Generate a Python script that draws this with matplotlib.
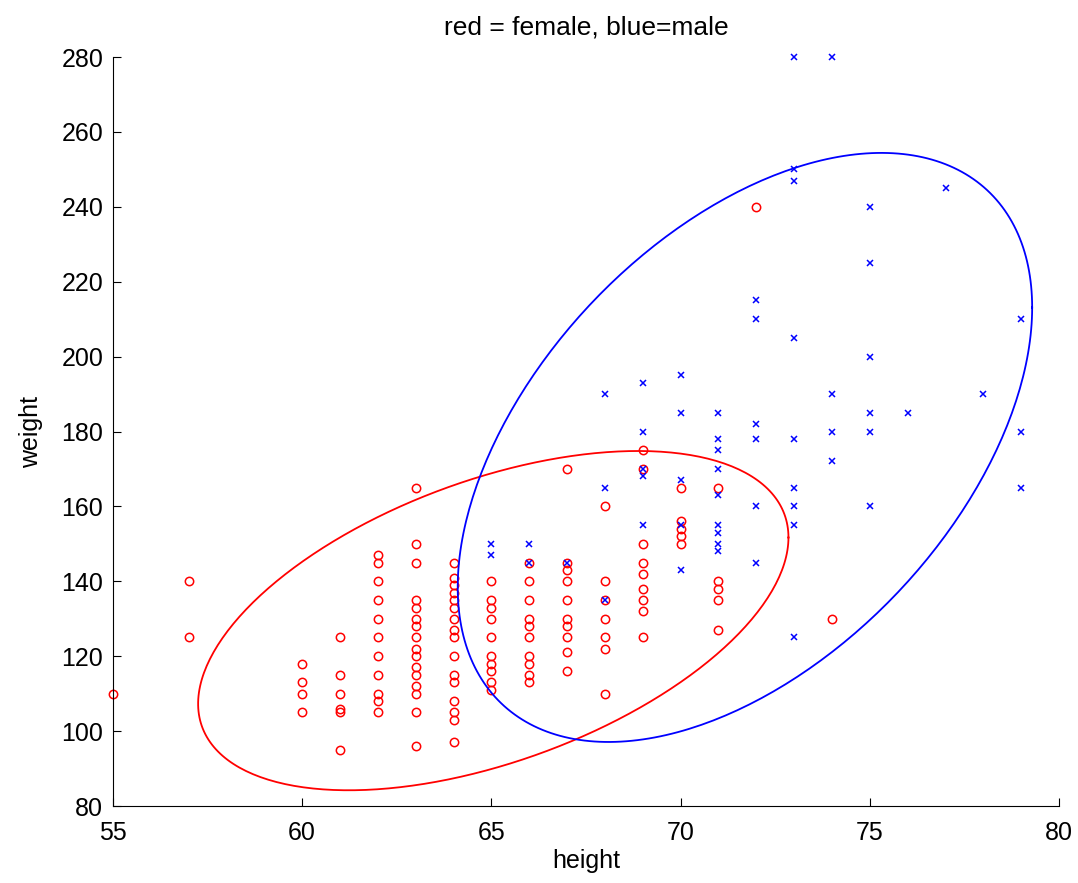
import numpy as np
import matplotlib
matplotlib.use("Agg")
import matplotlib.pyplot as plt

plt.rcParams['font.family'] = ['Liberation Sans', 'DejaVu Sans']

# female: height column -> weights
female = {
    55: [110],
    57: [140, 125],
    60: [118, 113, 110, 105],
    61: [125, 115, 110, 106, 105, 95],
    62: [147, 145, 140, 135, 130, 125, 120, 115, 110, 108, 105],
    63: [165, 150, 145, 135, 133, 130, 128, 125, 122, 120, 117, 115, 112, 110, 105, 96],
    64: [145, 141, 139, 137, 135, 133, 130, 127, 125, 120, 115, 113, 108, 105, 103, 97],
    65: [140, 135, 133, 130, 125, 120, 118, 116, 113, 111],
    66: [145, 140, 135, 130, 128, 125, 120, 118, 115, 113],
    67: [170, 145, 143, 140, 135, 130, 128, 125, 121, 116],
    68: [160, 140, 135, 130, 125, 122, 110],
    69: [175, 170, 150, 145, 142, 138, 135, 132, 125],
    70: [165, 156, 154, 152, 150],
    71: [165, 140, 138, 135, 127],
    72: [240],
    74: [130],
}

male = {
    65: [150, 147],
    66: [150, 145],
    67: [145],
    68: [190, 165, 135],
    69: [193, 180, 170, 168, 155],
    70: [195, 185, 167, 155, 143],
    71: [185, 178, 175, 170, 163, 155, 153, 150, 148],
    72: [215, 210, 182, 178, 160, 145],
    73: [280, 250, 247, 205, 178, 165, 160, 155, 125],
    74: [280, 190, 180, 172],
    75: [240, 225, 200, 185, 180, 160],
    76: [185],
    77: [245],
    78: [190],
    79: [210, 180, 165],
}

# ellipse: centre (h, w), half extent (h, w), correlation
female_ell = [65.05, 129.5, 7.8, 45.3, 0.49]
male_ell = [71.7, 175.75, 7.59, 78.65, 0.475]


def flat(d):
    xs, ys = [], []
    for h, ws in d.items():
        xs += [h] * len(ws)
        ys += ws
    return xs, ys


def ellipse(p):
    mx, my, ax_, ay, rho = p
    t = np.linspace(0, 2 * np.pi, 300)
    x = mx + ax_ * np.cos(t)
    y = my + ay * (rho * np.cos(t) + np.sqrt(1 - rho ** 2) * np.sin(t))
    return x, y


fig = plt.figure(figsize=(10.78, 8.83), dpi=100)
ax = fig.add_axes([0.1048, 0.0872, 0.8776, 0.8482])

fx, fy = flat(female)
mx, my = flat(male)
ax.plot(fx, fy, 'o', color='red', mfc='none', ms=6, mew=1.1, clip_on=False)
ax.plot(mx, my, 'x', color='blue', ms=5, mew=1.1, clip_on=False)

ex, ey = ellipse(female_ell)
ax.plot(ex, ey, color='red', lw=1.3)
ex, ey = ellipse(male_ell)
ax.plot(ex, ey, color='blue', lw=1.3)

ax.set_xlim(55, 80)
ax.set_ylim(80, 280)
ax.set_xticks(range(55, 81, 5))
ax.set_yticks(range(80, 281, 20))
ax.tick_params(direction='in', labelsize=18, length=6, pad=7)
ax.tick_params(axis='x', pad=11)
ax.spines['top'].set_visible(False)
ax.spines['right'].set_visible(False)
ax.set_xlabel('height', fontsize=18, labelpad=3)
ax.set_ylabel('weight', fontsize=18, labelpad=13)
ax.set_title('red = female, blue=male', fontsize=19, pad=16)

fig.savefig('out.png', dpi=100)
